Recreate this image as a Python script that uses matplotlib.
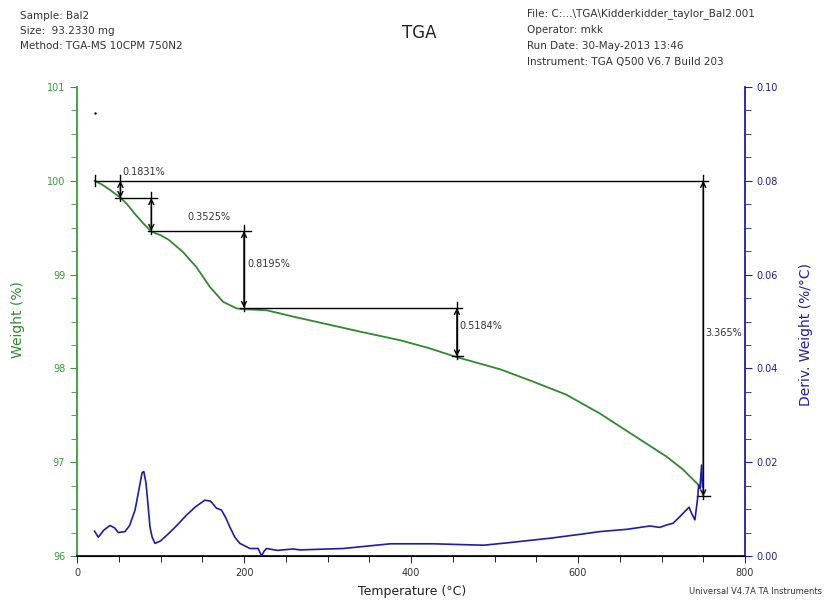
import numpy as np
import matplotlib
matplotlib.use("Agg")
from matplotlib import pyplot as plt
from matplotlib.ticker import MultipleLocator, FormatStrFormatter

plt.rcParams['font.family'] = ['DejaVu Sans']

# weight curve (%)
temp_w = [21, 30, 40, 52, 60, 70, 80, 89, 100, 110, 127, 143, 159, 175, 191, 200,
          215, 227, 260, 300, 340, 387, 420, 455, 507, 546, 586, 626, 666, 706, 726, 744]
weight = [100.0, 99.96, 99.90, 99.82, 99.75, 99.64, 99.54, 99.46, 99.42, 99.37, 99.24,
          99.08, 98.87, 98.71, 98.64, 98.63, 98.625, 98.62, 98.55, 98.47, 98.39, 98.30,
          98.22, 98.12, 97.99, 97.86, 97.72, 97.52, 97.29, 97.06, 96.92, 96.76]

# derivative weight curve (%/°C)
temp_d = [21, 25.5, 32, 39.5, 45, 49.5, 57.5, 63, 69.5, 74, 78, 80, 82.6, 85, 87.4, 90,
          93.4, 100, 111, 120, 131, 142, 153, 160, 167, 173, 178, 183, 189, 195, 207, 217,
          221, 224, 227, 240, 259, 267, 319, 375, 427, 487, 515, 567, 606, 626, 659, 686,
          698, 706, 714, 722, 728, 733, 736, 740, 743, 744.5, 746, 748, 749]
deriv = [0.0053, 0.0040, 0.0055, 0.0065, 0.0060, 0.0050, 0.0052, 0.0065, 0.0098, 0.0140,
         0.0178, 0.0180, 0.0156, 0.0110, 0.0062, 0.0040, 0.0027, 0.0032, 0.0050, 0.0066,
         0.0087, 0.0105, 0.0119, 0.0117, 0.0102, 0.0098, 0.0082, 0.0062, 0.0040, 0.0027,
         0.0016, 0.0016, 0.0000, 0.0010, 0.0016, 0.0012, 0.0015, 0.0013, 0.0016, 0.0026,
         0.0026, 0.0023, 0.0028, 0.0038, 0.0047, 0.0052, 0.0057, 0.0064, 0.0061, 0.0066,
         0.0070, 0.0084, 0.0095, 0.0104, 0.0091, 0.0077, 0.0119, 0.0151, 0.0144, 0.0194,
         0.0148]

# step changes: temperature of arrow, upper level, weight loss (%)
step_temp = [52, 89, 200, 455, 750]
step_top = [100.0, 99.817, 99.464, 98.645, 100.0]
step_loss = [0.1831, 0.3525, 0.8195, 0.5184, 3.365]
# horizontal reference lines: level, from, to
ref_level = [100.0, 99.817, 99.464, 98.645, 98.127, 96.635]
ref_from = [21, 45, 85, 195, 449, 743]
ref_to = [756, 96, 208, 461, 462, 758]

green = '#2f8a2f'
axgreen = '#3a9a3a'
blue = '#1c1cb0'

fig = plt.figure(figsize=(8.26, 6), dpi=100)
ax = fig.add_axes([77 / 826, 44 / 600, 668 / 826, 469 / 600])
ax2 = ax.twinx()

ax.plot(temp_w, weight, color=green, lw=1.3, zorder=3)
ax2.plot(temp_d, deriv, color=blue, lw=1.2)

ax.set_xlim(0, 800)
ax.set_ylim(96, 101)
ax2.set_ylim(0, 0.10)

ax.xaxis.set_major_locator(MultipleLocator(200))
ax.xaxis.set_minor_locator(MultipleLocator(50))
ax.yaxis.set_major_locator(MultipleLocator(1))
ax.yaxis.set_minor_locator(MultipleLocator(0.25))
ax2.yaxis.set_major_locator(MultipleLocator(0.02))
ax2.yaxis.set_minor_locator(MultipleLocator(0.005))
ax2.yaxis.set_major_formatter(FormatStrFormatter('%.2f'))

for a in (ax, ax2):
    a.spines['top'].set_visible(False)
ax.spines['right'].set_visible(False)
ax.spines['left'].set_color(axgreen)
ax.spines['left'].set_linewidth(1.3)
ax2.spines['left'].set_visible(False)
ax2.spines['right'].set_color(blue)
ax2.spines['right'].set_linewidth(1.3)
ax.spines['bottom'].set_linewidth(1.2)

ax.tick_params(axis='x', which='major', length=5, direction='out', labelsize=7, colors='#333333')
ax.tick_params(axis='x', which='minor', length=4, direction='out')
ax.tick_params(axis='y', which='major', length=5, direction='out', labelsize=7,
               colors=axgreen, labelcolor=axgreen)
ax.tick_params(axis='y', which='minor', length=4, direction='out', colors=axgreen)
ax2.tick_params(axis='y', which='major', length=5, direction='out', labelsize=7,
                colors=blue, labelcolor=blue)
ax2.tick_params(axis='y', which='minor', length=4, direction='out', colors=blue)

# axis titles placed where the reference has them
fig.text(412 / 826, 1 - 592 / 600, 'Temperature (°C)', fontsize=9, color='#222222',
         ha='center', va='center')
fig.text(18 / 826, 1 - 320 / 600, 'Weight (%)', fontsize=10, color=green,
         ha='center', va='center', rotation=90)
fig.text(806 / 826, 1 - 335 / 600, 'Deriv. Weight (%/°C)', fontsize=10, color=blue,
         ha='center', va='center', rotation=90)

# step annotations
for lev, x0, x1 in zip(ref_level, ref_from, ref_to):
    ax.plot([x0, x1], [lev, lev], color='black', lw=1.0, zorder=4)
ax.plot([ref_from[0], ref_from[0]], [99.94, 100.06], color='black', lw=1.0, zorder=4)

label_dx = [2, 43, 4, 3, 2]
label_dy = [0.094, -0.203, -0.35, -0.19, -1.62]
for t, top, loss, dx, dy in zip(step_temp, step_top, step_loss, label_dx, label_dy):
    ax.annotate('', xy=(t, top - loss), xytext=(t, top),
                arrowprops=dict(arrowstyle='<->', color='black', lw=1.0,
                                mutation_scale=9, shrinkA=0, shrinkB=0), zorder=5)
    ax.plot([t, t], [top + 0.06, top - loss - 0.03], color='black', lw=1.0, zorder=4)
    ax.text(t + dx, top + dy, f'{loss}%', fontsize=7, color='#333333', ha='left', va='center')

ax.plot([22], [100.72], marker='.', ms=1.5, color='black')

# header
fig.text(0.508, 0.945, 'TGA', fontsize=12, ha='center', va='center', color='#222222')
left_hdr = ['Sample: Bal2', 'Size:  93.2330 mg', 'Method: TGA-MS 10CPM 750N2']
for i, s in enumerate(left_hdr):
    fig.text(20 / 826, 1 - (16 + 15 * i) / 600, s, fontsize=7.5, va='center', color='#333333')
right_hdr = ['File: C:...\\TGA\\Kidderkidder_taylor_Bal2.001', 'Operator: mkk',
             'Run Date: 30-May-2013 13:46', 'Instrument: TGA Q500 V6.7 Build 203']
for i, s in enumerate(right_hdr):
    fig.text(527 / 826, 1 - (14 + 16 * i) / 600, s, fontsize=7.5, va='center', color='#333333')
fig.text(822 / 826, 1 - 592 / 600, 'Universal V4.7A TA Instruments', fontsize=6,
         ha='right', va='center', color='#333333')

fig.savefig('out.png', dpi=100)
